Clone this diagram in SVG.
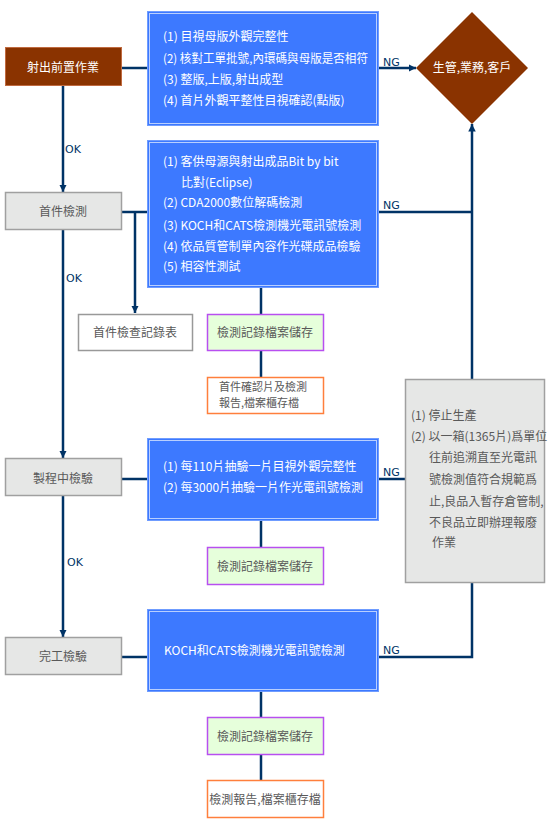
<svg xmlns="http://www.w3.org/2000/svg" width="552" height="835" viewBox="0 0 552 835">
<defs>
<marker id="ah" viewBox="0 0 10 10" refX="10" refY="5" markerWidth="3" markerHeight="3" orient="auto" markerUnits="strokeWidth">
<path d="M0,0 L10,5 L0,10 z" fill="#003366"/>
</marker>
<style>
text{font-family:"Noto Sans CJK TC","Noto Sans CJK SC",sans-serif;font-size:12px;}
.ln{stroke:#003366;stroke-width:2.5;fill:none;}
.lbl{font-family:"DejaVu Sans",sans-serif;font-size:11px;fill:#003366;}
.blue{fill:#3d79ff;stroke:#6f9cff;stroke-width:1;}
.bin{fill:none;stroke:#b9cfff;stroke-width:1;}
.bt{fill:#ffffff;}
.gray{fill:#e6e7e6;stroke:#a0a0a0;stroke-width:1.5;}
.gt{fill:#595959;}
.sm{font-size:11px;}
.green{fill:#e6ffdb;stroke:#b84ff0;stroke-width:1.5;}
.orange{fill:#ffffff;stroke:#ff7f3c;stroke-width:1.5;}
.white{fill:#ffffff;stroke:#999999;stroke-width:1.5;}
.brown{fill:#8a3300;stroke:#c06a40;stroke-width:1;}
</style>
</defs>
<rect width="552" height="835" fill="#ffffff"/>

<g id="connectors">
<line class="ln" x1="122" y1="68" x2="147" y2="68"/>
<line class="ln" x1="379" y1="68" x2="416" y2="68" marker-end="url(#ah)"/>
<line class="ln" x1="63" y1="85" x2="63" y2="192" marker-end="url(#ah)"/>
<line class="ln" x1="122" y1="212" x2="147" y2="212"/>
<line class="ln" x1="135" y1="212" x2="135" y2="313" marker-end="url(#ah)"/>
<line class="ln" x1="378" y1="212" x2="472" y2="212"/>
<line class="ln" x1="472" y1="379" x2="472" y2="124" marker-end="url(#ah)"/>
<line class="ln" x1="261" y1="288" x2="261" y2="314"/>
<line class="ln" x1="261" y1="351" x2="261" y2="377"/>
<line class="ln" x1="63" y1="230" x2="63" y2="458" marker-end="url(#ah)"/>
<line class="ln" x1="122" y1="479" x2="147" y2="479"/>
<line class="ln" x1="378" y1="479" x2="405" y2="479"/>
<line class="ln" x1="261" y1="521" x2="261" y2="547"/>
<line class="ln" x1="63" y1="496" x2="63" y2="637" marker-end="url(#ah)"/>
<line class="ln" x1="122" y1="657" x2="147" y2="657"/>
<polyline class="ln" points="378,657 472,657 472,583"/>
<line class="ln" x1="261" y1="692" x2="261" y2="717"/>
<line class="ln" x1="261" y1="755" x2="261" y2="780"/>
<text class="lbl" x="383" y="66">NG</text>
<text class="lbl" x="383" y="209">NG</text>
<text class="lbl" x="383" y="476">NG</text>
<text class="lbl" x="383" y="654">NG</text>
<text class="lbl" x="65" y="153">OK</text>
<text class="lbl" x="66" y="282">OK</text>
<text class="lbl" x="67" y="566">OK</text>
</g>

<g id="n-pre">
<rect class="brown" x="5.5" y="47.5" width="116" height="38"/>
<text class="bt" x="63" y="72" text-anchor="middle">射出前置作業</text>
</g>

<g id="n-blue1">
<rect class="blue" x="147.5" y="11.5" width="231" height="114"/>
<rect class="bin" x="149.5" y="13.5" width="227" height="110"/>
<text class="bt" x="163" y="41">(1) 目視母版外觀完整性</text>
<text class="bt" x="163" y="63" textLength="205" lengthAdjust="spacingAndGlyphs">(2) 核對工單批號,內環碼與母版是否相符</text>
<text class="bt" x="163" y="84">(3) 整版,上版,射出成型</text>
<text class="bt" x="163" y="105">(4) 首片外觀平整性目視確認(點版)</text>
</g>

<g id="n-diamond">
<polygon points="472,12 528,68 472,124 416,68" fill="#8a3300"/>
<text class="bt" x="472" y="72" text-anchor="middle">生管,業務,客戶</text>
</g>

<g id="n-first">
<rect class="gray" x="5.5" y="192.5" width="116" height="37"/>
<text class="gt" x="63" y="216" text-anchor="middle">首件檢測</text>
</g>

<g id="n-blue2">
<rect class="blue" x="147.5" y="140.5" width="231" height="147"/>
<rect class="bin" x="149.5" y="142.5" width="227" height="143"/>
<text class="bt" x="163" y="166">(1) 客供母源與射出成品Bit by bit</text>
<text class="bt" x="181" y="187">比對(Eclipse)</text>
<text class="bt" x="163" y="207">(2) CDA2000數位解碼檢測</text>
<text class="bt" x="163" y="230">(3) KOCH和CATS檢測機光電訊號檢測</text>
<text class="bt" x="163" y="251">(4) 依品質管制單內容作光碟成品檢驗</text>
<text class="bt" x="163" y="271">(5) 相容性測試</text>
</g>

<g id="n-firstrec">
<rect class="white" x="78.5" y="314.5" width="114" height="36"/>
<text class="gt" x="135" y="337" text-anchor="middle">首件檢查記錄表</text>
</g>

<g id="n-green1">
<rect class="green" x="207.5" y="314.5" width="116" height="36"/>
<text class="gt" x="265" y="337" text-anchor="middle">檢測記錄檔案儲存</text>
</g>

<g id="n-orange1">
<rect class="orange" x="207.5" y="377.5" width="116" height="36"/>
<text class="gt sm" x="219" y="391">首件確認片及檢測</text>
<text class="gt sm" x="219" y="407">報告,檔案櫃存檔</text>
</g>

<g id="n-stop">
<rect class="gray" x="405.5" y="379.5" width="139" height="203"/>
<text class="gt" x="411" y="420">(1) 停止生產</text>
<text class="gt" x="411" y="441">(2) 以一箱(1365片)爲單位</text>
<text class="gt" x="429" y="462">往前追溯直至光電訊</text>
<text class="gt" x="429" y="484">號檢測值符合規範爲</text>
<text class="gt" x="429" y="506">止,良品入暫存倉管制,</text>
<text class="gt" x="429" y="527">不良品立即辦理報廢</text>
<text class="gt" x="432" y="547">作業</text>
</g>

<g id="n-process">
<rect class="gray" x="5.5" y="458.5" width="116" height="37"/>
<text class="gt" x="63" y="483" text-anchor="middle">製程中檢驗</text>
</g>

<g id="n-blue3">
<rect class="blue" x="147.5" y="438.5" width="231" height="82"/>
<rect class="bin" x="149.5" y="440.5" width="227" height="78"/>
<text class="bt" x="163" y="471">(1) 每110片抽驗一片目視外觀完整性</text>
<text class="bt" x="163" y="492">(2) 每3000片抽驗一片作光電訊號檢測</text>
</g>

<g id="n-green2">
<rect class="green" x="207.5" y="547.5" width="116" height="37"/>
<text class="gt" x="265" y="571" text-anchor="middle">檢測記錄檔案儲存</text>
</g>

<g id="n-final">
<rect class="gray" x="5.5" y="637.5" width="116" height="37"/>
<text class="gt" x="63" y="661" text-anchor="middle">完工檢驗</text>
</g>

<g id="n-blue4">
<rect class="blue" x="147.5" y="609.5" width="231" height="82"/>
<rect class="bin" x="149.5" y="611.5" width="227" height="78"/>
<text class="bt" x="164" y="655">KOCH和CATS檢測機光電訊號檢測</text>
</g>

<g id="n-green3">
<rect class="green" x="207.5" y="717.5" width="116" height="37"/>
<text class="gt" x="265" y="741" text-anchor="middle">檢測記錄檔案儲存</text>
</g>

<g id="n-orange2">
<rect class="orange" x="207.5" y="780.5" width="116" height="37"/>
<text class="gt" x="265" y="804" text-anchor="middle">檢測報告,檔案櫃存檔</text>
</g>
</svg>
